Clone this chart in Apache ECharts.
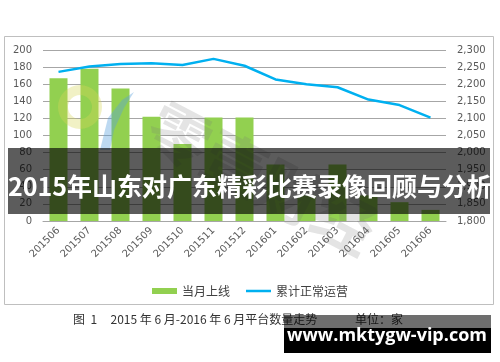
<!DOCTYPE html>
<html><head><meta charset="utf-8">
<script src="https://cdn.jsdelivr.net/npm/echarts@6/dist/echarts.min.js"></script>
<style>html,body{margin:0;padding:0;background:#fff}#c{width:500px;height:362px}</style>
</head><body><div id="c"></div>
<script>
var categories = ['201506','201507','201508','201509','201510','201511','201512','201601','201602','201603','201604','201605','201606'];
var newOnline = [167, 178, 155, 122, 90, 121, 121, 66, 30, 66, 30, 22, 13];
var cumulative = [2236, 2252, 2259, 2261, 2256, 2274, 2254, 2214, 2200, 2191, 2155, 2139, 2102];
var leftTicks = {min: 0, max: 200, interval: 20};
var rightTicks = {min: 1800, max: 2300, interval: 50};
var seriesNames = ['当月上线', '累计正常运营'];
var bannerTitle = '2015年山东对广东精彩比赛录像回顾与分析';
var captionLeft = '图  1     2015 年 6 月-2016 年 6 月平台数量走势';
var captionRight = '单位：家';
var siteText = 'www.mktygw-vip.com';

var lineIcon = 'path://M0,0L0.05,0L0.05,0.05L0,0.05Z M0,1.8L25,1.8L25,4.2L0,4.2Z M24.95,5.95L25,5.95L25,6L24.95,6Z';
var chart = echarts.init(document.getElementById('c'), null, {renderer: 'canvas'});
var axisFont = {color: '#595959', fontSize: 10, fontFamily: 'DejaVu Sans'};
chart.setOption({
  animation: false,
  grid: {left: 43, right: 54, top: 50, bottom: 141, containLabel: false},
  legend: {
    data: [{name: seriesNames[0], icon: 'rect'}, {name: seriesNames[1], icon: lineIcon}],
    left: 'center', top: 280, itemWidth: 25, itemHeight: 6, itemGap: 16,
    textStyle: {color: '#404040', fontSize: 12, fontFamily: 'Noto Sans CJK SC'}
  },
  xAxis: {
    type: 'category', data: categories,
    axisLine: {lineStyle: {color: '#a6a6a6'}},
    axisTick: {show: false},
    axisLabel: Object.assign({rotate: 45, margin: 8, interval: 0}, axisFont)
  },
  yAxis: [
    {type: 'value', min: leftTicks.min, max: leftTicks.max, interval: leftTicks.interval,
     axisLine: {show: false}, axisTick: {show: false},
     splitLine: {lineStyle: {color: '#a6a6a6', width: 1}},
     axisLabel: Object.assign({margin: 11}, axisFont)},
    {type: 'value', min: rightTicks.min, max: rightTicks.max, interval: rightTicks.interval,
     axisLine: {show: false}, axisTick: {show: false}, splitLine: {show: false},
     axisLabel: Object.assign({margin: 11, formatter: function(v){return v.toLocaleString('en-US');}}, axisFont)}
  ],
  series: [
    {name: seriesNames[0], type: 'bar', data: newOnline, barWidth: 18, itemStyle: {color: '#92d050'}},
    {name: seriesNames[1], type: 'line', yAxisIndex: 1, data: cumulative, symbol: 'none',
     lineStyle: {color: '#00b0f0', width: 2.5}, itemStyle: {color: '#00b0f0'}}
  ],
  graphic: [
    {type: 'rect', shape: {x: 4.5, y: 36.5, width: 489, height: 268}, style: {fill: 'none', stroke: '#bfbfbf', lineWidth: 1}, z: -1, silent: true},
    {type: 'ring', shape: {cx: 80, cy: 107, r: 22, r0: 12}, style: {fill: 'rgba(215,215,90,0.35)'}, z: 50, silent: true},
    {type: 'polygon', shape: {points: [[100,150],[108,118],[122,100],[134,92],[124,108],[114,130],[110,150]]}, style: {fill: 'rgba(90,160,220,0.4)'}, z: 50, silent: true},
    {type: 'text', x: 262, y: 178, rotation: -0.48, style: {text: '零壹财经', fill: 'rgba(120,120,120,0.2)', font: 'bold 62px "Noto Sans CJK SC"', textAlign: 'center', textVerticalAlign: 'middle'}, z: 50, silent: true},
    {type: 'rect', shape: {x: 8, y: 148, width: 482, height: 66}, style: {fill: 'rgba(0,0,0,0.64)'}, z: 100, silent: true},
    {type: 'text', x: 250, y: 186, style: {text: bannerTitle, fill: '#ffffff', font: 'bold 25px "Noto Sans CJK SC"', textAlign: 'center', textVerticalAlign: 'middle'}, z: 101, silent: true},
    {type: 'text', x: 73, y: 319, style: {text: captionLeft, fill: '#333333', font: '12px "Noto Sans CJK SC"', textAlign: 'left', textVerticalAlign: 'middle'}, z: 10, silent: true},
    {type: 'text', x: 355, y: 319, style: {text: captionRight, fill: '#333333', font: '12px "Noto Sans CJK SC"', textAlign: 'left', textVerticalAlign: 'middle'}, z: 10, silent: true},
    {type: 'rect', shape: {x: 284, y: 315, width: 207, height: 13}, style: {fill: 'rgba(0,0,0,0.57)'}, z: 100, silent: true},
    {type: 'rect', shape: {x: 284, y: 328, width: 207, height: 25}, style: {fill: '#000000'}, z: 100, silent: true},
    {type: 'text', x: 387, y: 336, style: {text: siteText, fill: '#ffffff', font: 'bold 18px "Open Sans"', textAlign: 'center', textVerticalAlign: 'middle'}, z: 101, silent: true}
  ]
});
</script></body></html>
